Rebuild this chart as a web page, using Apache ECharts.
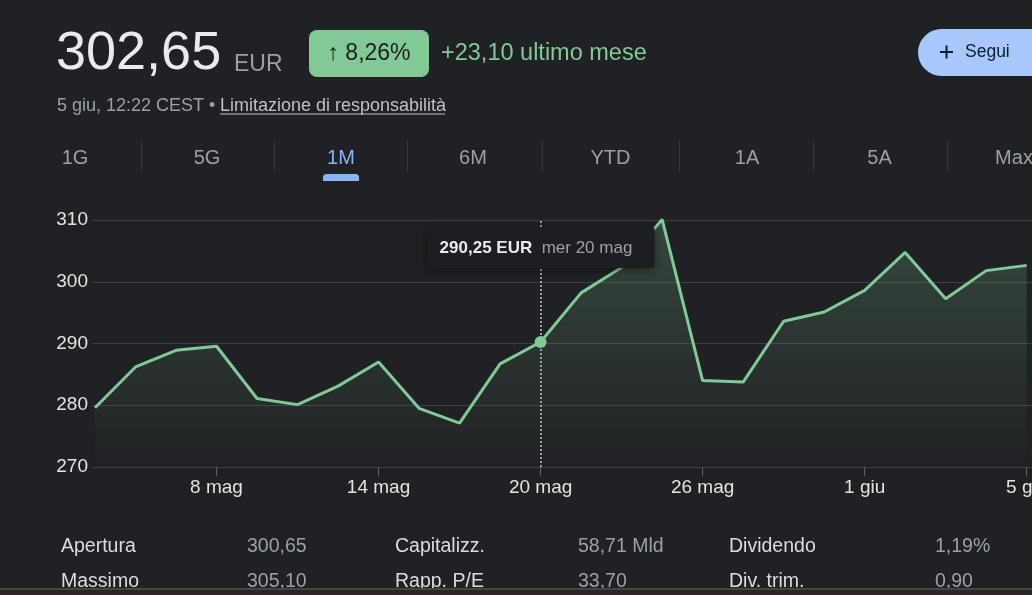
<!DOCTYPE html>
<html>
<head>
<meta charset="utf-8">
<script src="https://cdn.jsdelivr.net/npm/echarts@6/dist/echarts.min.js"></script>
<style>
html,body{margin:0;padding:0;background:#202124;}
#c{width:1032px;height:595px;}
</style>
</head>
<body>
<div id="c"></div>
<script>
// ---- data ----
const days = ['mar 5 mag','mer 6 mag','gio 7 mag','ven 8 mag','lun 11 mag','mar 12 mag','mer 13 mag','gio 14 mag','ven 15 mag','lun 18 mag','mar 19 mag','mer 20 mag','gio 21 mag','ven 22 mag','lun 25 mag','mar 26 mag','mer 27 mag','gio 28 mag','ven 29 mag','lun 1 giu','mar 2 giu','mer 3 giu','gio 4 giu','ven 5 giu'];
const prices = [279.6,286.2,288.9,289.55,281.1,280.1,283.1,287.0,279.5,277.1,286.7,290.25,298.2,302.3,310.1,284.0,283.75,293.6,295.1,298.6,304.75,297.25,301.8,302.65];
const labelIdx = [3,7,11,15,19,23];
const hoverIdx = 11;
const tabs = ['1G','5G','1M','6M','YTD','1A','5A','Max'];
const activeTab = '1M';
const statLabels1 = ['Apertura','Capitalizz.','Dividendo'];
const statValues1 = ['300,65','58,71 Mld','1,19%'];
const statLabels2 = ['Massimo','Rapp. P/E','Div. trim.'];
const statValues2 = ['305,10','33,70','0,90'];
const price = '302,65';
const currency = 'EUR';
const changePct = '8,26%';
const changeAbs = '+23,10 ultimo mese';
const stamp = '5 giu, 12:22 CEST • ';
const disclaimer = 'Limitazione di responsabilità';

const FF = "'Liberation Sans', Arial, sans-serif";
const fmt = v => v.toFixed(2).replace('.', ',');
const shortDay = s => s.split(' ').slice(1).join(' ');

const chart = echarts.init(document.getElementById('c'), null, {renderer:'canvas'});
const seriesData = prices.map((v,i)=>[i,v]);

chart.setOption({
  backgroundColor:'#202124',
  animation:false,
  grid:{left:92,right:0,top:220,bottom:128,containLabel:false,outerBoundsMode:'none'},
  xAxis:{
    type:'value', min:-0.074, max:23.131,
    splitLine:{show:false}, axisLine:{show:false},
    axisTick:{show:true, customValues:labelIdx, length:9, lineStyle:{color:'#5f6368',width:1}},
    axisLabel:{customValues:labelIdx, formatter:v=>shortDay(days[Math.round(v)]), color:'#e3e3e3', fontSize:19, fontFamily:FF, margin:11, hideOverlap:false}
  },
  yAxis:{
    type:'value', min:270, max:310, interval:10,
    axisLine:{show:false}, axisTick:{show:false},
    splitLine:{lineStyle:{color:'#3c4043',width:1}},
    axisLabel:{color:'#e3e3e3', fontSize:19, fontFamily:FF, margin:4}
  },
  series:[{
    type:'line', data:seriesData, showSymbol:false, clip:false,
    lineStyle:{color:'#81c995', width:3}, itemStyle:{color:'#81c995'},
    areaStyle:{color:new echarts.graphic.LinearGradient(0,0,0,1,[
      {offset:0,color:'rgba(129,201,149,0.33)'},
      {offset:1,color:'rgba(129,201,149,0.0)'}])},
    markLine:{silent:true, symbol:'none', label:{show:false},
      lineStyle:{color:'#9aa0a6', type:'dotted', width:2},
      data:[{xAxis:hoverIdx}]},
    markPoint:{silent:true, symbol:'circle', symbolSize:12, label:{show:false},
      itemStyle:{color:'#81c995'},
      data:[{coord:[hoverIdx, prices[hoverIdx]]}]}
  }]
});

// ---- graphic overlay ----
const g = [];
function txt(text,x,y,size,color,opt){
  g.push(Object.assign({type:'text', z:50, style:Object.assign({text, x, y, fill:color, fontSize:size, fontFamily:FF, align:'left', verticalAlign:'middle'}, opt||{})}));
}
// header
txt(price,56,54,54,'#e8eaed');
txt(currency,234,65,23,'#9aa0a6');
g.push({type:'rect', z:40, shape:{x:309,y:30,width:120,height:47,r:8}, style:{fill:'#81c995'}});
txt('↑ '+changePct,369,54,23,'#202124',{align:'center'});
txt(changeAbs,441,54,23.5,'#81c995');
g.push({type:'rect', z:40, shape:{x:918,y:29,width:160,height:47,r:23.5}, style:{fill:'#a8c7fa'}});
g.push({type:'line', z:50, shape:{x1:940,y1:52,x2:953,y2:52}, style:{stroke:'#0b1d33',lineWidth:2}});
g.push({type:'line', z:50, shape:{x1:946.5,y1:45.5,x2:946.5,y2:58.5}, style:{stroke:'#0b1d33',lineWidth:2}});
txt('Segui',965,52,17.5,'#0b1d33');
txt(stamp,57,106,18,'#9aa0a6');
txt(disclaimer,220,106,18,'#bdc1c6');
g.push({type:'line', z:50, shape:{x1:220,y1:114,x2:445,y2:114}, style:{stroke:'#bdc1c6',lineWidth:1}});
// tabs
const tabCenters = [75,207,341,473,610.5,747,879.5,1014];
tabs.forEach((t,i)=>{
  txt(t,tabCenters[i],158,20,t===activeTab?'#8ab4f8':'#9aa0a6',{align:'center'});
  if(i>0){
    const sx = Math.round((tabCenters[i-1]+tabCenters[i])/2)+0.5;
    g.push({type:'line', z:40, shape:{x1:sx,y1:140,x2:sx,y2:172}, style:{stroke:'#35363a',lineWidth:1}});
  }
});
g.push({type:'rect', z:40, shape:{x:323,y:174,width:36,height:7,r:[3.5,3.5,0,0]}, style:{fill:'#8ab4f8'}});
// stats
const colsL = [61,395,729], colsV = [247,578,935];
statLabels1.forEach((s,i)=>{ txt(s,colsL[i],547,19.5,'#dadce0'); txt(statValues1[i],colsV[i],547,19.5,'#9aa0a6'); });
statLabels2.forEach((s,i)=>{ txt(s,colsL[i],582,19.5,'#dadce0'); txt(statValues2[i],colsV[i],582,19.5,'#9aa0a6'); });
g.push({type:'rect', z:60, shape:{x:0,y:588,width:1032,height:2}, style:{fill:'#4a4345'}});
g.push({type:'rect', z:60, shape:{x:0,y:590,width:1032,height:5}, style:{fill:'#2d2424'}});

// tooltip box anchored to hovered point
const p = chart.convertToPixel({gridIndex:0},[hoverIdx, prices[hoverIdx]]);
const boxW = 228, boxH = 41;
const bx = p[0]-boxW/2, by = 227;
g.push({type:'rect', z:80, shape:{x:bx,y:by,width:boxW,height:boxH,r:3},
  style:{fill:'#1d1e21', shadowBlur:10, shadowColor:'rgba(0,0,0,0.45)', shadowOffsetY:2}});
g.push({type:'text', z:90, style:{x:bx+13, y:by+21, verticalAlign:'middle', align:'left',
  text:'{a|'+fmt(prices[hoverIdx])+' EUR}{b|  '+days[hoverIdx]+'}',
  rich:{a:{fontSize:17,fontWeight:'bold',fill:'#e8eaed',fontFamily:FF},
        b:{fontSize:17,fill:'#9aa0a6',fontFamily:FF}}}});

chart.setOption({graphic:{elements:g}});
</script>
</body>
</html>
